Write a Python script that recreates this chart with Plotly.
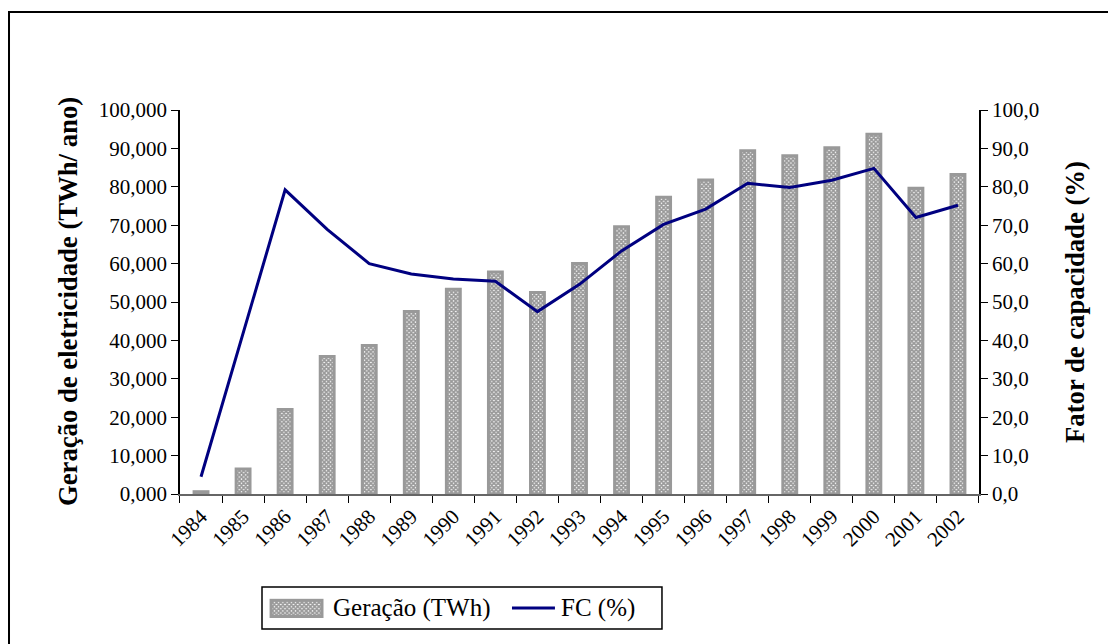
import plotly.graph_objects as go

# data
anos = [str(a) for a in range(1984, 2003)]
geracao = [0.6, 6.5, 22.0, 35.8, 38.7, 47.5, 53.3, 57.8, 52.5, 60.0,
           69.6, 77.3, 81.8, 89.4, 88.1, 90.2, 93.7, 79.6, 83.2]
fc = [4.5, 41.8, 79.2, 68.9, 60.0, 57.3, 56.0, 55.4, 47.5, 54.6,
      63.3, 70.2, 74.2, 80.9, 79.8, 81.7, 84.8, 72.0, 75.2]
y_ticks = [0, 10, 20, 30, 40, 50, 60, 70, 80, 90, 100]
nome_bar = 'Geração (TWh)'
nome_linha = 'FC (%)'

serif = "Liberation Serif"
bar_marker = dict(color='white', line=dict(color='#999999', width=3),
                  pattern=dict(shape='x', size=3, solidity=0.8,
                               fgcolor='#333333', bgcolor='white'))

fig = go.Figure()

fig.add_trace(go.Bar(x=anos, y=geracao, name=nome_bar, width=0.33, marker=bar_marker))
fig.add_trace(go.Scatter(x=anos, y=fc, name=nome_linha, mode='lines', yaxis='y2',
                         line=dict(color='#000080', width=3)))

# legend swatch for the bars (own little axes so the pattern is kept)
fig.add_trace(go.Bar(x=[1], y=[''], orientation='h', width=0.8, base=0,
                     xaxis='x2', yaxis='y5', marker=bar_marker, hoverinfo='skip'))

axis_font = dict(family=serif, size=21, color='black')
xdom = [0.15412, 0.87007]
ydom = [0.24534, 0.84161]

fig.update_layout(
    width=1116, height=644, autosize=False,
    margin=dict(l=0, r=0, t=0, b=0, autoexpand=False),
    paper_bgcolor='white', plot_bgcolor='white',
    separators=',.',
    font=dict(family=serif, color='black'),
    showlegend=False,
    xaxis=dict(domain=xdom, anchor='y', type='category', showline=True,
               linecolor='#666666', linewidth=2,
               ticks='outside', tickson='boundaries', ticklen=7, tickcolor='black',
               tickangle=-45, tickfont=axis_font, showgrid=False),
    yaxis=dict(domain=ydom, anchor='x', range=[0, 100], tickvals=y_ticks,
               tickformat='.3f', showline=True,
               linecolor='black', linewidth=1.5, ticks='outside', ticklen=7,
               tickcolor='black', tickfont=axis_font, showgrid=False, zeroline=False),
    yaxis2=dict(range=[0, 100], tickvals=y_ticks, tickformat='.1f', overlaying='y',
                side='right', anchor='x', showline=True, linecolor='black', linewidth=1.5,
                ticks='outside', ticklen=7, tickcolor='black', tickfont=axis_font,
                showgrid=False, zeroline=False),
    yaxis3=dict(range=[0, 100], tickvals=y_ticks, overlaying='y', side='left',
                anchor='x', ticks='inside', ticklen=7, tickcolor='black',
                showticklabels=False, showline=False, showgrid=False, zeroline=False),
    yaxis4=dict(range=[0, 100], tickvals=y_ticks, overlaying='y', side='right',
                anchor='x', ticks='inside', ticklen=7, tickcolor='black',
                showticklabels=False, showline=False, showgrid=False, zeroline=False),
    xaxis2=dict(domain=[0.2330, 0.2841], anchor='y5', range=[-0.06, 1.06],
                visible=False, fixedrange=True),
    yaxis5=dict(domain=[0.0520, 0.0836], anchor='x2', range=[-0.5, 0.5],
                visible=False, fixedrange=True),
)

# axis titles
fig.add_annotation(text='<b>Geração de eletricidade (TWh/ ano)</b>', textangle=-90,
                   xref='paper', yref='paper', x=0.0538, y=0.5435,
                   xanchor='center', yanchor='middle', showarrow=False,
                   font=dict(family=serif, size=26.7, color='black'))
fig.add_annotation(text='<b>Fator de capacidade (%)</b>', textangle=-90,
                   xref='paper', yref='paper', x=0.9561, y=0.5435,
                   xanchor='center', yanchor='middle', showarrow=False,
                   font=dict(family=serif, size=26.7, color='black'))

# legend: box, texts and line sample
fig.add_shape(type='rect', xref='paper', yref='paper', x0=0.2276, x1=0.5860,
              y0=0.0357, y1=0.1009, line=dict(color='black', width=1.5))
fig.add_annotation(text=nome_bar, xref='paper', yref='paper', x=0.2894, y=0.0683,
                   xanchor='left', yanchor='middle', showarrow=False,
                   font=dict(family=serif, size=25, color='black'))
fig.add_shape(type='line', xref='paper', yref='paper', x0=0.4516, x1=0.4901,
              y0=0.0683, y1=0.0683, line=dict(color='#000080', width=3))
fig.add_annotation(text=nome_linha, xref='paper', yref='paper', x=0.4937, y=0.0683,
                   xanchor='left', yanchor='middle', showarrow=False,
                   font=dict(family=serif, size=25, color='black'))

# outer frame (runs past right and bottom edges in the reference)
fig.add_shape(type='rect', xref='paper', yref='paper', x0=0.0009, x1=1.05,
              y0=-0.05, y1=0.9938, line=dict(color='black', width=2),
              fillcolor='rgba(0,0,0,0)', layer='below')

fig.write_html("out.html")
